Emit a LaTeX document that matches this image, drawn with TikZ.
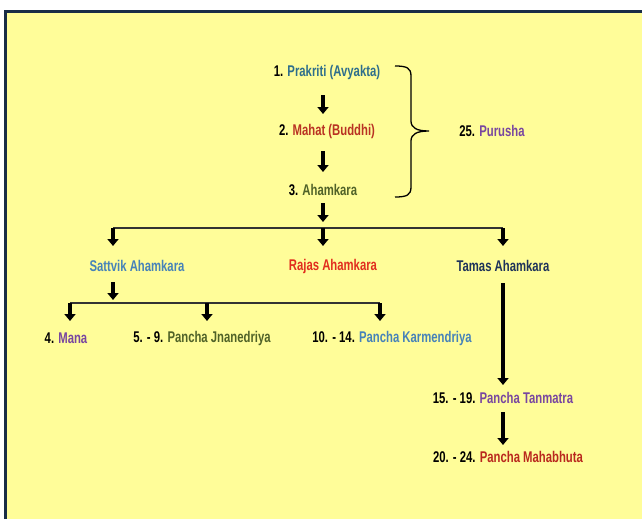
\documentclass[tikz,border=0pt]{standalone}
\usepackage{fontspec}
\setmainfont{Liberation Sans}[FakeStretch=0.73]
\usepackage{xcolor}
\usetikzlibrary{arrows.meta}
\definecolor{paleyellow}{RGB}{255,253,153}
\definecolor{framenavy}{RGB}{25,45,70}
\definecolor{prakblue}{RGB}{46,110,140}
\definecolor{mahatred}{RGB}{185,50,35}
\definecolor{ahamgreen}{RGB}{80,98,40}
\definecolor{purushaviolet}{RGB}{120,70,160}
\definecolor{sattvablue}{RGB}{70,130,185}
\definecolor{rajasred}{RGB}{225,45,30}
\definecolor{tamasnavy}{RGB}{30,50,90}
\definecolor{bhutared}{RGB}{185,40,30}

\begin{document}
\begin{tikzpicture}[x=1pt, y=-1pt, node distance=59pt, font=\bfseries\fontsize{15.5}{17}\selectfont]
    % Define styles
    \tikzstyle{tattva} = [inner sep=1pt, text=black]
    \tikzstyle{arrow} = [line width=3.8pt, -{Triangle[width=11pt,length=7pt]}, black]
    \tikzstyle{bar} = [line width=1.8pt, black!80]
    \tikzstyle{brace} = [line width=1.3pt, black]

    % Frame
    \useasboundingbox (0,0) rectangle (642,519);
    \fill[paleyellow] (7,13) rectangle (642,519);
    \draw[framenavy, line width=3pt] (5.5,519) -- (5.5,11.5) -- (642,11.5);

    % Nodes
    \node (prakriti) [tattva] at (327,72) {1. \textcolor{prakblue}{Prakriti (Avyakta)}};
    \node (mahat) [tattva, below of=prakriti] {2. \textcolor{mahatred}{Mahat (Buddhi)}};
    \node (ahamkara) [tattva] at (323,190) {3. \textcolor{ahamgreen}{Ahamkara}};
    \node (purusha) [tattva] at (492,131) {25. \textcolor{purushaviolet}{Purusha}};
    \node (sattvik) [tattva] at (137,266) {\textcolor{sattvablue}{Sattvik Ahamkara}};
    \node (rajas) [tattva] at (333,266) {\textcolor{rajasred}{Rajas Ahamkara}};
    \node (tamas) [tattva] at (503,266) {\textcolor{tamasnavy}{Tamas Ahamkara}};
    \node (mana) [tattva] at (66,338) {4. \textcolor{purushaviolet}{Mana}};
    \node (jnana) [tattva] at (202,338) {5. - 9. \textcolor{ahamgreen}{Pancha Jnanedriya}};
    \node (karma) [tattva] at (392,338) {10. - 14. \textcolor{sattvablue}{Pancha Karmendriya}};
    \node (tanmatra) [tattva] at (503,398) {15. - 19. \textcolor{purushaviolet}{Pancha Tanmatra}};
    \node (bhuta) [tattva] at (508,457) {20. - 24. \textcolor{bhutared}{Pancha Mahabhuta}};

    % Split points
    \coordinate (split1) at (323,228);
    \coordinate (fork1l) at (113,228);
    \coordinate (fork1r) at (503,228);
    \coordinate (split2) at (113,303);
    \coordinate (fork2l) at (70,303);
    \coordinate (fork2m) at (207,303);
    \coordinate (fork2r) at (380,303);
    \coordinate (bracetop) at (395,66);
    \coordinate (bracebot) at (395,197);

    % Brace
    \draw [brace] (bracetop) .. controls +(12,0) and +(0,-8) .. ++(16,10) -- ++(0,45)
        .. controls +(0,7) and +(-12,0) .. ++(18,10)
        .. controls +(-12,0) and +(0,-7) .. ++(-18,10) -- ++(0,46)
        .. controls +(0,8) and +(12,0) .. (bracebot);

    % Bars
    \draw [bar] (fork1l) -- (fork1r);
    \draw [bar] (fork2l) -- (fork2r);

    % Arrows
    \draw [arrow, shorten <=23pt, shorten >=17pt] (prakriti.center -| ahamkara) -- (mahat.center -| ahamkara);
    \draw [arrow, shorten <=20pt, shorten >=18pt] (mahat.center -| ahamkara) -- (ahamkara.center);
    \draw [arrow, shorten <=13pt, shorten >=6pt] (ahamkara.center) -- (split1);
    \draw [arrow, shorten >=20pt] (fork1l) -- (fork1l |- sattvik.center);
    \draw [arrow, shorten >=20pt] (split1) -- (split1 |- rajas.center);
    \draw [arrow, shorten >=20pt] (fork1r) -- (tamas.center);
    \draw [arrow, shorten <=16pt, shorten >=3pt] (sattvik.center -| split2) -- (split2);
    \draw [arrow, shorten >=17pt] (fork2l) -- (fork2l |- mana.center);
    \draw [arrow, shorten >=17pt] (fork2m) -- (fork2m |- jnana.center);
    \draw [arrow, shorten >=17pt] (fork2r) -- (fork2r |- karma.center);
    \draw [arrow, shorten <=17pt, shorten >=13pt] (tamas.center) -- (tanmatra.center);
    \draw [arrow, shorten <=14pt, shorten >=12pt] (tanmatra.center) -- (tanmatra.center |- bhuta.center);
\end{tikzpicture}
\end{document}
